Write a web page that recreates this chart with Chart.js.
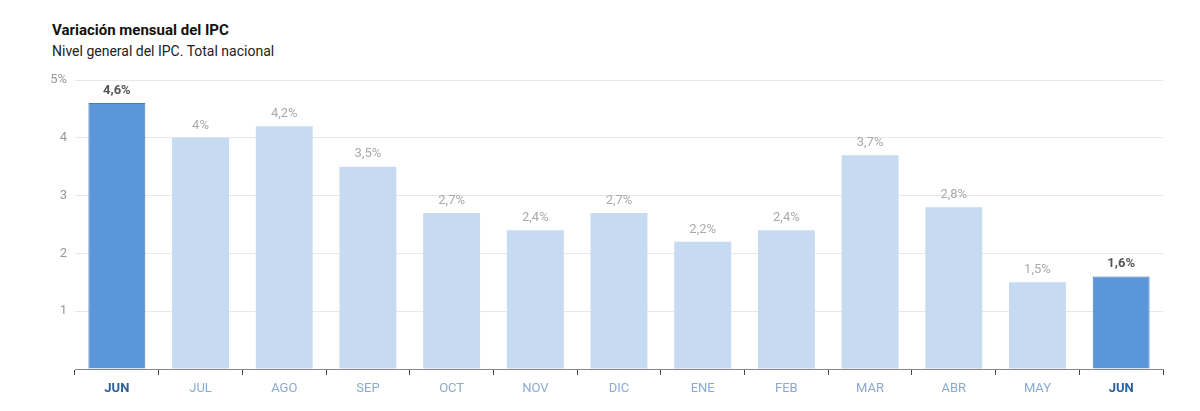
<!DOCTYPE html>
<html>
<head>
<meta charset="utf-8">
<script src="https://cdn.jsdelivr.net/npm/chart.js@4"></script>
<style>
  body { margin: 0; background: #fff; font-family: Roboto, "Noto Sans", sans-serif; }
  #t { position: absolute; left: 52px; top: 21px; font-size: 15px; font-weight: bold; color: #111; }
  #s { position: absolute; left: 52px; top: 43px; font-size: 14px; color: #222; }
  canvas { position: absolute; left: 0; top: 0; }
</style>
</head>
<body>
<div id="t">Variación mensual del IPC</div>
<div id="s">Nivel general del IPC. Total nacional</div>
<canvas id="c" width="1200" height="411"></canvas>
<script>
const meses = ['JUN', 'JUL', 'AGO', 'SEP', 'OCT', 'NOV', 'DIC', 'ENE', 'FEB', 'MAR', 'ABR', 'MAY', 'JUN'];
const valores = [4.6, 4.0, 4.2, 3.5, 2.7, 2.4, 2.7, 2.2, 2.4, 3.7, 2.8, 1.5, 1.6];
const destacados = [0, 12];

const isHi = i => destacados.includes(i);

const valueLabels = {
    id: 'valueLabels',
    afterDatasetsDraw(chart) {
        const ctx = chart.ctx;
        const meta = chart.getDatasetMeta(0);
        ctx.save();
        ctx.textAlign = 'center';
        ctx.textBaseline = 'bottom';
        meta.data.forEach((bar, i) => {
            ctx.font = (isHi(i) ? 'bold ' : '') + '13px Roboto';
            ctx.fillStyle = isHi(i) ? '#555' : '#aaa';
            ctx.fillText(String(valores[i]).replace('.', ',') + '%', bar.x, bar.y - 6);
        });
        ctx.restore();
    }
};

new Chart(document.getElementById('c'), {
    type: 'bar',
    data: {
        labels: meses,
        datasets: [{
            data: valores,
            backgroundColor: valores.map((v, i) => isHi(i) ? '#5b96db' : '#c6daf1'),
            borderColor: valores.map((v, i) => isHi(i) ? '#3f78bd' : '#c6daf1'),
            borderWidth: valores.map((v, i) => isHi(i) ? 1 : 0),
            categoryPercentage: 1,
            barPercentage: 0.68
        }]
    },
    options: {
        responsive: false,
        animation: false,
        layout: { padding: { left: 40, right: 37, top: 80, bottom: 12 } },
        plugins: { legend: { display: false }, tooltip: { enabled: false } },
        scales: {
            x: {
                grid: { drawOnChartArea: false, tickLength: 6, color: '#444' },
                border: { color: '#888' },
                ticks: {
                    padding: 6,
                    font: ctx => ({ family: 'Roboto', size: 13, weight: isHi(ctx.index) ? 'bold' : 'normal' }),
                    color: ctx => isHi(ctx.index) ? '#2c5f9e' : '#8aaad0'
                },
                afterFit: s => { s.height = 30; }
            },
            y: {
                min: 0, max: 5,
                ticks: {
                    stepSize: 1,
                    padding: 8,
                    font: { family: 'Roboto', size: 13 },
                    color: '#999',
                    callback: v => v === 0 ? '' : (v === 5 ? '5%' : v)
                },
                grid: { color: '#e8e8e8', drawTicks: false },
                border: { display: false },
                afterFit: s => { s.width = 35; }
            }
        }
    },
    plugins: [valueLabels]
});
</script>
</body>
</html>
